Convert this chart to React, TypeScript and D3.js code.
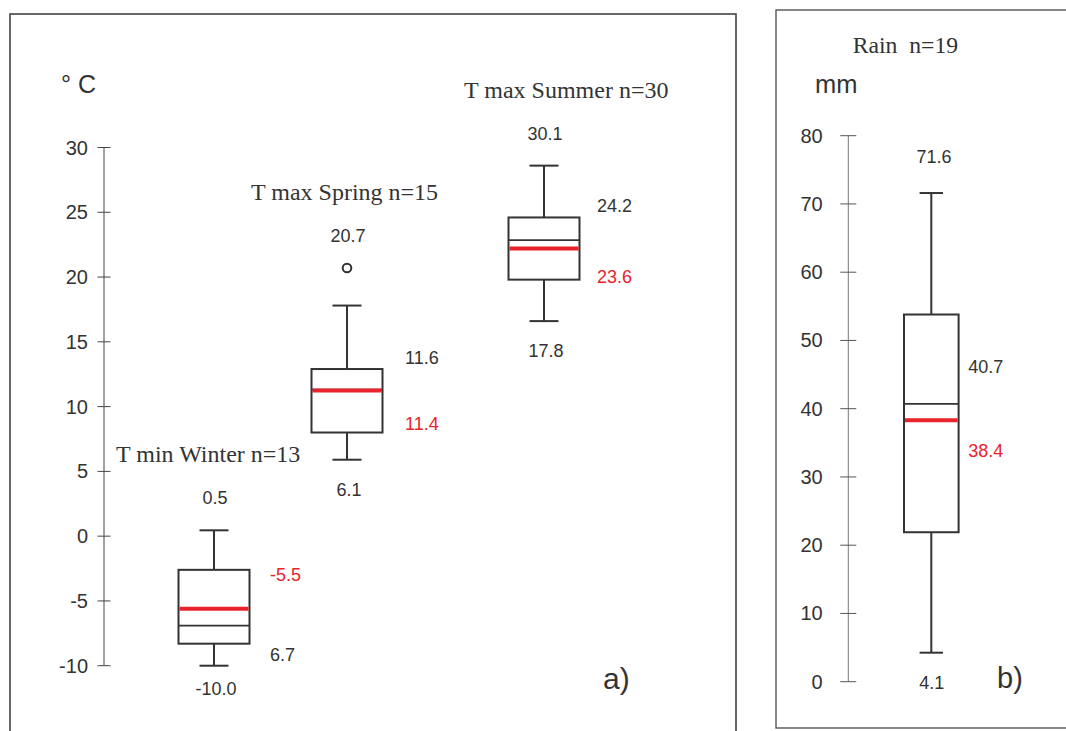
import React from "react";
import * as d3 from "d3";

// ---------- data ----------
const groups = ["T min Winter", "T max Spring", "T max Summer"];
const nCounts = [13, 15, 30];
const whiskerLow = [-10.0, 5.9, 16.6];
const q1 = [-8.3, 8.0, 19.8];
const medians = [-6.9, 11.3, 22.85];
const means = [-5.6, 11.25, 22.2];
const q3 = [-2.6, 12.9, 24.6];
const whiskerHigh = [0.45, 17.8, 28.6];
const outliers = [[], [20.7], []];
const topLabels = ["0.5", "20.7", "30.1"];
const bottomLabels = ["-10.0", "6.1", "17.8"];
const upperRightLabels = ["-5.5", "11.6", "24.2"];
const lowerRightLabels = ["6.7", "11.4", "23.6"];
const upperRightRed = [true, false, false];
const tempTicks = [-10, -5, 0, 5, 10, 15, 20, 25, 30];

const rainName = "Rain";
const rainN = 19;
const rainStats = { low: 4.25, q1: 21.9, median: 40.7, mean: 38.3, q3: 53.8, high: 71.6 };
const rainTop = "71.6";
const rainBottom = "4.1";
const rainMedianLabel = "40.7";
const rainMeanLabel = "38.4";
const rainTicks = [0, 10, 20, 30, 40, 50, 60, 70, 80];

// ---------- styles ----------
const SANS = "'Liberation Sans', Arial, Helvetica, sans-serif";
const SERIF = "'Liberation Serif', 'Times New Roman', serif";
const INK = "#333";
const RED = "#e8232b";

export default function App() {
  const yL = d3.scaleLinear().domain([-10, 30]).range([665.7, 147.5]);
  const yR = d3.scaleLinear().domain([0, 80]).range([681.7, 135.7]);
  const xL = d3.scaleOrdinal<string, number>().domain(groups).range([214, 347, 544]);
  const xR = d3.scaleOrdinal<string, number>().domain([rainName]).range([931.3]);

  const boxHalf = 35.5;
  const capHalf = 14.5;
  // per-group label layout (pixel offsets)
  const titleDx = [-98, -96, -80];
  const rightDx = [56, 58, 53];
  const upperDy = [11, -5.5, -5];
  const lowerDy = [17, -3, 3.5];

  const axisL = 104;
  const axisR = 848.3;

  return (
    <svg
      width={1066}
      height={731}
      style={{ position: "absolute", left: 0, top: 0, background: "#fff" }}
    >
      {/* panel frames */}
      <rect x={10} y={14} width={726} height={740} fill="none" stroke="#444" strokeWidth={1.6} />
      <rect x={776} y={10} width={310} height={718} fill="none" stroke="#555" strokeWidth={1.4} />

      {/* ---------- left panel axis ---------- */}
      <line x1={axisL} x2={axisL} y1={yL(30)} y2={yL(-10)} stroke="#444" strokeWidth={1} />
      {tempTicks.map((t) => (
        <g key={t}>
          <line x1={axisL - 6.5} x2={axisL + 6.5} y1={yL(t)} y2={yL(t)} stroke="#444" strokeWidth={1} />
          <text x={88} y={yL(t) + 7} textAnchor="end" fontFamily={SANS} fontSize={20} fill={INK}>
            {t}
          </text>
        </g>
      ))}
      <text x={61} y={93} fontFamily={SANS} fontSize={25} fill={INK} style={{ whiteSpace: "pre" }}>
        {"° C"}
      </text>

      {/* ---------- left boxes ---------- */}
      {groups.map((g, i) => {
        const cx = xL(g);
        const topAnchor = outliers[i].length ? yL(d3.max(outliers[i]) as number) : yL(whiskerHigh[i]);
        const topBase = topAnchor - 26;
        return (
          <g key={g}>
            <text x={cx + titleDx[i]} y={topBase - 42} fontFamily={SERIF} fontSize={24} fill="#333">
              {`${g} n=${nCounts[i]}`}
            </text>
            {/* whiskers */}
            <line x1={cx} x2={cx} y1={yL(whiskerHigh[i])} y2={yL(q3[i])} stroke={INK} strokeWidth={2} />
            <line x1={cx} x2={cx} y1={yL(q1[i])} y2={yL(whiskerLow[i])} stroke={INK} strokeWidth={2} />
            <line x1={cx - capHalf} x2={cx + capHalf} y1={yL(whiskerHigh[i])} y2={yL(whiskerHigh[i])} stroke={INK} strokeWidth={2} />
            <line x1={cx - capHalf} x2={cx + capHalf} y1={yL(whiskerLow[i])} y2={yL(whiskerLow[i])} stroke={INK} strokeWidth={2} />
            {/* box */}
            <rect
              x={cx - boxHalf}
              y={yL(q3[i])}
              width={boxHalf * 2}
              height={yL(q1[i]) - yL(q3[i])}
              fill="#fff"
              stroke={INK}
              strokeWidth={2}
            />
            <line x1={cx - boxHalf} x2={cx + boxHalf} y1={yL(medians[i])} y2={yL(medians[i])} stroke={INK} strokeWidth={1.8} />
            <line x1={cx - boxHalf + 1} x2={cx + boxHalf - 1} y1={yL(means[i])} y2={yL(means[i])} stroke={RED} strokeWidth={4} />
            {outliers[i].map((o, k) => (
              <circle key={k} cx={cx} cy={yL(o)} r={4.3} fill="#fff" stroke={INK} strokeWidth={2} />
            ))}
            {/* annotations */}
            <text x={cx + 1} y={topBase} textAnchor="middle" fontFamily={SANS} fontSize={18} fill={INK}>
              {topLabels[i]}
            </text>
            <text x={cx + 2} y={yL(whiskerLow[i]) + (i === 0 ? 29 : 36)} textAnchor="middle" fontFamily={SANS} fontSize={18} fill={INK}>
              {bottomLabels[i]}
            </text>
            <text
              x={cx + rightDx[i]}
              y={yL(q3[i]) + upperDy[i]}
              fontFamily={SANS}
              fontSize={18}
              fill={upperRightRed[i] ? RED : INK}
            >
              {upperRightLabels[i]}
            </text>
            <text
              x={cx + rightDx[i]}
              y={yL(q1[i]) + lowerDy[i]}
              fontFamily={SANS}
              fontSize={18}
              fill={upperRightRed[i] ? INK : RED}
            >
              {lowerRightLabels[i]}
            </text>
          </g>
        );
      })}
      <text x={603} y={689} fontFamily={SANS} fontSize={30} fill={INK}>
        a)
      </text>

      {/* ---------- right panel ---------- */}
      <line x1={axisR} x2={axisR} y1={yR(80)} y2={yR(0)} stroke="#777" strokeWidth={1} />
      {rainTicks.map((t) => (
        <g key={t}>
          <line x1={axisR - 8} x2={axisR + 8} y1={yR(t)} y2={yR(t)} stroke="#555" strokeWidth={1} />
          <text x={822.7} y={yR(t) + 7} textAnchor="end" fontFamily={SANS} fontSize={20} fill={INK}>
            {t}
          </text>
        </g>
      ))}
      <text x={815} y={93} fontFamily={SANS} fontSize={25.5} fill={INK}>
        mm
      </text>
      <text x={852.7} y={53.3} fontFamily={SERIF} fontSize={23.7} fill="#333" style={{ whiteSpace: "pre" }}>
        {`${rainName}  n=${rainN}`}
      </text>
      {(() => {
        const cx = xR(rainName);
        const half = 27.3;
        const cap = 11.7;
        const s = rainStats;
        return (
          <g>
            <line x1={cx} x2={cx} y1={yR(s.high)} y2={yR(s.q3)} stroke={INK} strokeWidth={2} />
            <line x1={cx} x2={cx} y1={yR(s.q1)} y2={yR(s.low)} stroke={INK} strokeWidth={2} />
            <line x1={cx - cap} x2={cx + cap} y1={yR(s.high)} y2={yR(s.high)} stroke={INK} strokeWidth={2} />
            <line x1={cx - cap} x2={cx + cap} y1={yR(s.low)} y2={yR(s.low)} stroke={INK} strokeWidth={2} />
            <rect x={cx - half} y={yR(s.q3)} width={half * 2} height={yR(s.q1) - yR(s.q3)} fill="#fff" stroke={INK} strokeWidth={2} />
            <line x1={cx - half} x2={cx + half} y1={yR(s.median)} y2={yR(s.median)} stroke={INK} strokeWidth={1.8} />
            <line x1={cx - half + 1} x2={cx + half - 1} y1={yR(s.mean)} y2={yR(s.mean)} stroke={RED} strokeWidth={4} />
            <text x={cx + 2.7} y={yR(s.high) - 30} textAnchor="middle" fontFamily={SANS} fontSize={18} fill={INK}>
              {rainTop}
            </text>
            <text x={cx + 0.4} y={yR(s.low) + 36} textAnchor="middle" fontFamily={SANS} fontSize={18} fill={INK}>
              {rainBottom}
            </text>
            <text x={cx + 37} y={yR(s.median) - 30.7} fontFamily={SANS} fontSize={18} fill={INK}>
              {rainMedianLabel}
            </text>
            <text x={cx + 37} y={yR(s.mean) + 36.7} fontFamily={SANS} fontSize={18} fill={RED}>
              {rainMeanLabel}
            </text>
          </g>
        );
      })()}
      <text x={997} y={688} fontFamily={SANS} fontSize={29} fill={INK}>
        b)
      </text>
    </svg>
  );
}
